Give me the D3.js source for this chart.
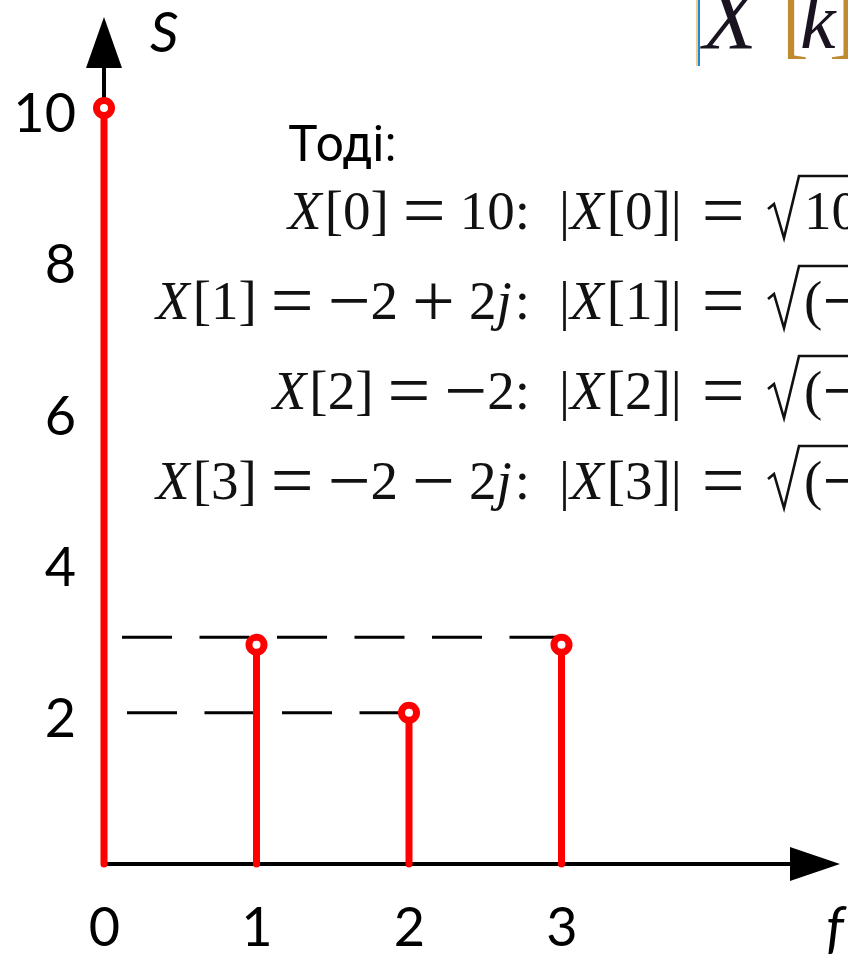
<!DOCTYPE html>
<html>
<head>
<meta charset="utf-8">
<script src="https://cdn.jsdelivr.net/npm/d3@7"></script>
<style>
  html, body { margin: 0; padding: 0; background: #fff; }
  svg { display: block; }
  text { white-space: pre; }
</style>
</head>
<body>
<svg id="chart" width="848" height="955"></svg>
<script>
// Amplitude spectrum |X[k]| of a 4-point DFT, drawn as stems
const bins = [0, 1, 2, 3];
const magnitudes = [10, 2.9, 2, 2.9];
const xTickValues = [0, 1, 2, 3];
const yTickValues = [2, 4, 6, 8, 10];
const guideLevels = [3, 2];              // dashed reference lines towards the stems

const introLabel = "Тоді:";
const lhsFormulas = ["X[0] = 10:", "X[1] = −2 + 2j:", "X[2] = −2:", "X[3] = −2 − 2j:"];
const rhsFormulas = ["|X[0]| =", "|X[1]| =", "|X[2]| =", "|X[3]| ="];
const rootFormulas = ["10", "(−", "(−", "(−"];

const svg = d3.select("#chart");
const W = 848, H = 955;

const x = d3.scaleLinear().domain([0, 3]).range([104, 561.5]);
const y = d3.scaleLinear().domain([0, 10]).range([864, 108]);

const RED = "#ff0000";
const digitFont = "Lato, 'Open Sans', sans-serif";
const mathFont = "'Liberation Serif', 'DejaVu Serif', serif";

// ---- axis lines with arrow heads ----
const x0 = x(0), yBase = y(0);
const xEnd = 790, xTip = 840;
const yEnd = 68, yTip = 17;

svg.append("line")
  .attr("x1", x0).attr("y1", yBase).attr("x2", xEnd).attr("y2", yBase)
  .attr("stroke", "#000").attr("stroke-width", 4);
svg.append("path")
  .attr("d", `M${xTip},${yBase} L${xEnd},${yBase - 17} L${xEnd},${yBase + 17} Z`)
  .attr("fill", "#000");

svg.append("line")
  .attr("x1", x0).attr("y1", yBase).attr("x2", x0).attr("y2", yEnd)
  .attr("stroke", "#000").attr("stroke-width", 4);
svg.append("path")
  .attr("d", `M${x0},${yTip} L${x0 - 18},${yEnd} L${x0 + 18},${yEnd} Z`)
  .attr("fill", "#000");

// ---- tick labels (no tick marks) ----
const yAxis = svg.append("g")
  .attr("transform", `translate(${x0},0)`)
  .call(d3.axisLeft(y).tickValues(yTickValues).tickSize(0).tickPadding(28).tickFormat(d3.format("d")));
yAxis.select(".domain").remove();
yAxis.selectAll("text")
  .attr("dy", "0.44em")
  .attr("font-family", digitFont)
  .attr("font-size", 54)
  .attr("fill", "#000");

const xAxis = svg.append("g")
  .attr("transform", `translate(0,${yBase})`)
  .call(d3.axisBottom(x).tickValues(xTickValues).tickSize(0).tickPadding(44).tickFormat(d3.format("d")));
xAxis.select(".domain").remove();
xAxis.selectAll("text")
  .attr("font-family", digitFont)
  .attr("font-size", 54)
  .attr("fill", "#000");

// axis names
svg.append("text")
  .attr("x", 150).attr("y", 52)
  .attr("font-family", digitFont).attr("font-style", "italic")
  .attr("font-size", 56).text("S");
svg.append("text")
  .attr("x", 826).attr("y", 946)
  .attr("font-family", digitFont).attr("font-style", "italic")
  .attr("font-size", 56).text("f");

// ---- dashed guides from the axis to the furthest stem near each level ----
svg.append("g").selectAll("line")
  .data(guideLevels)
  .join("line")
  .attr("x1", (d, i) => x0 + 18 + i * 5)
  .attr("x2", d => x(d3.max(bins.filter((b, j) => Math.abs(magnitudes[j] - d) < 0.2))))
  .attr("y1", d => y(d))
  .attr("y2", d => y(d))
  .attr("stroke", "#000")
  .attr("stroke-width", 3)
  .attr("stroke-dasharray", "50 27.5");

// ---- stems and markers ----
const stems = bins.map((b, i) => ({ k: b, v: magnitudes[i] }));

svg.append("g").selectAll("line")
  .data(stems)
  .join("line")
  .attr("x1", d => x(d.k)).attr("x2", d => x(d.k))
  .attr("y1", yBase).attr("y2", d => y(d.v))
  .attr("stroke", RED)
  .attr("stroke-width", 7)
  .attr("stroke-linecap", "round");

svg.append("g").selectAll("circle")
  .data(stems)
  .join("circle")
  .attr("cx", d => x(d.k)).attr("cy", d => y(d.v))
  .attr("r", 7.5)
  .attr("fill", "#fff")
  .attr("stroke", RED)
  .attr("stroke-width", 7);

// ---- annotation text ----
svg.append("text")
  .attr("x", 288).attr("y", 161)
  .attr("font-family", "Roboto, 'Open Sans', sans-serif")
  .attr("font-size", 50)
  .attr("fill", "#000")
  .text(introLabel);

// append a math expression: space-separated chunks with a gap,
// X/j/k in italic, relation and binary operators set wider (math-style)
const OPS = /^[=+−]$/;
const OP_SIZE = 76, OP_DROP = 7;
function addMath(sel, str, gap) {
  let prevItalic = false, shifted = 0;
  str.split(" ").forEach((chunk, ci) => {
    const parts = chunk.match(/[Xjk]|[=+−]|[^Xjk=+−]+/g) || [];
    parts.forEach((p, pi) => {
      const ital = /^[Xjk]$/.test(p);
      const op = OPS.test(p);
      const ts = sel.append("tspan").text(p);
      if (ital) ts.attr("font-style", "italic");
      let dx = 0;
      if (pi === 0 && ci > 0) dx += gap;
      if (prevItalic && !ital) dx += 3;
      if (dx) ts.attr("dx", dx);
      if (op) {
        ts.attr("font-size", OP_SIZE).attr("dy", OP_DROP - shifted);
        shifted = OP_DROP;
      } else if (shifted) {
        ts.attr("dy", -shifted);
        shifted = 0;
      }
      prevItalic = ital;
    });
  });
}

const math = svg.append("g")
  .attr("font-family", mathFont)
  .attr("font-size", 55)
  .attr("fill", "#111");

lhsFormulas.forEach((f, i) => {
  const base = 229 + i * 90;

  const lhs = math.append("text")
    .attr("x", 530).attr("y", base)
    .attr("text-anchor", "end");
  addMath(lhs, f, 14);

  const rhs = math.append("text")
    .attr("x", 559).attr("y", base);
  addMath(rhs, rhsFormulas[i], 20);

  // radical sign with its overbar running to the page edge
  const rx = 768;
  math.append("path")
    .attr("d", `M${rx},${base - 20} L${rx + 6},${base - 25} L${rx + 16},${base + 9} L${rx + 31},${base - 53} L${W + 10},${base - 53}`)
    .attr("fill", "none")
    .attr("stroke", "#111")
    .attr("stroke-width", 2.6)
    .attr("stroke-linejoin", "miter");

  const root = math.append("text")
    .attr("x", rx + 36).attr("y", base);
  addMath(root, rootFormulas[i], 12);
});

// ---- heading |X[k]| at the top right ----
const head = svg.append("g");
head.append("rect").attr("x", 696).attr("y", 0).attr("width", 2).attr("height", 66).attr("fill", "#f7c98f");
head.append("rect").attr("x", 698).attr("y", 0).attr("width", 2).attr("height", 66).attr("fill", "#1d8bd1");
const headText = head.append("text")
  .attr("y", 48)
  .attr("font-family", mathFont)
  .attr("font-size", 80).attr("fill", "#1a1420");
headText.append("tspan").attr("x", 703).attr("font-size", 88).attr("font-style", "italic").text("X");
headText.append("tspan").attr("x", 782).attr("fill", "#c08a30").text("[");
headText.append("tspan").attr("x", 800).attr("font-style", "italic").text("k");
headText.append("tspan").attr("x", 829).attr("fill", "#c08a30").text("]");
</script>
</body>
</html>
